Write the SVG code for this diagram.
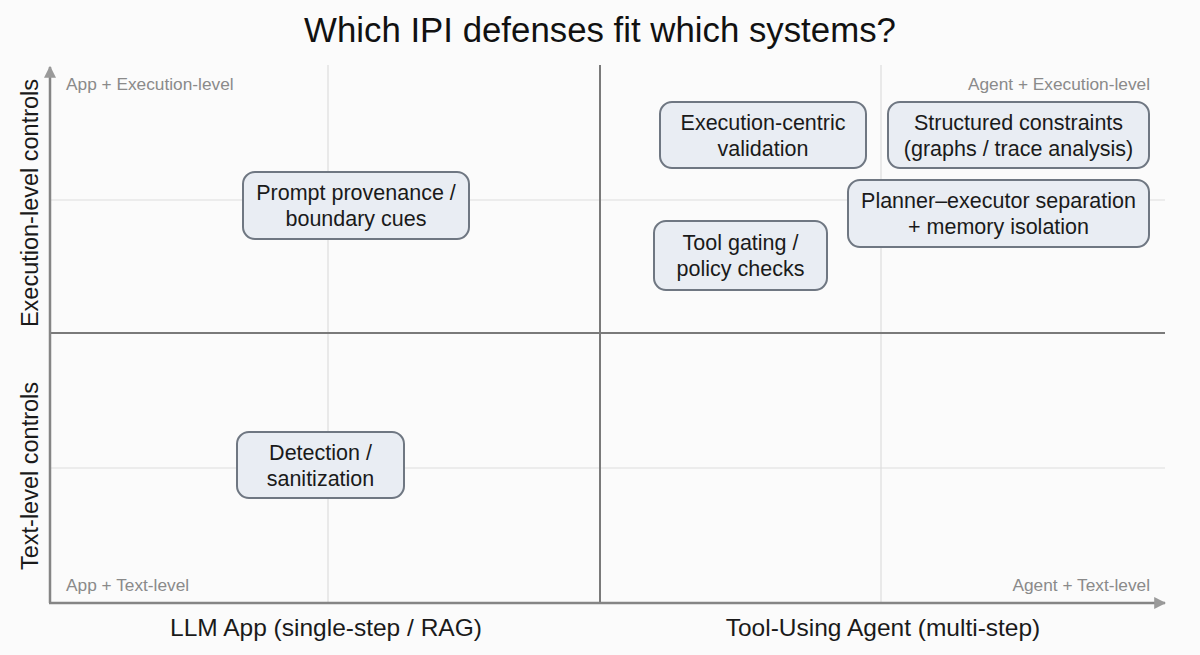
<svg xmlns="http://www.w3.org/2000/svg" width="1200" height="655" viewBox="0 0 1200 655">
<defs>
<marker id="arr" viewBox="0 0 10 10" refX="9" refY="5" markerWidth="12" markerHeight="12" markerUnits="userSpaceOnUse" orient="auto">
<path d="M0,0 L10,5 L0,10 z" fill="#9a9a9a"/>
</marker>
<style>
.grid{stroke:#dedede;stroke-width:1.2;fill:none}
.axis{stroke:#858585;stroke-width:2.5;fill:none}
.mid{stroke:#7a7a7a;stroke-width:2;fill:none}
.corner{font-family:"Liberation Sans",Arial,sans-serif;font-size:17.3px;fill:#8a8a8a}
.axlab{font-family:"Liberation Sans",Arial,sans-serif;font-size:24.5px;fill:#1a1a1a;text-anchor:middle}
.ylab{font-family:"Liberation Sans",Arial,sans-serif;font-size:23.5px;fill:#1a1a1a;text-anchor:middle}
.box rect{fill:#e9edf3;stroke:#6f7782;stroke-width:2}
.box text{font-family:"Liberation Sans",Arial,sans-serif;font-size:21.5px;fill:#1a1a1a;text-anchor:middle}
</style>
</defs>
<rect width="1200" height="655" fill="#fbfbfb"/>
<text x="600" y="42" font-family="Liberation Sans, Arial, sans-serif" font-size="34.8" fill="#111" text-anchor="middle">Which IPI defenses fit which systems?</text>
<g id="connectors">
<line class="grid" x1="328" y1="65" x2="328" y2="603"/>
<line class="grid" x1="881" y1="65" x2="881" y2="603"/>
<line class="grid" x1="50" y1="200" x2="1165" y2="200"/>
<line class="grid" x1="50" y1="468" x2="1165" y2="468"/>
<line class="mid" x1="600" y1="65" x2="600" y2="603"/>
<line class="mid" x1="50" y1="333" x2="1165" y2="333"/>
<line class="axis" x1="50" y1="603" x2="50" y2="67" marker-end="url(#arr)"/>
<line class="axis" x1="49" y1="603" x2="1165" y2="603" marker-end="url(#arr)"/>
</g>
<g id="labels">
<text class="corner" x="66" y="90">App + Execution-level</text>
<text class="corner" x="1150" y="90" text-anchor="end">Agent + Execution-level</text>
<text class="corner" x="66" y="591">App + Text-level</text>
<text class="corner" x="1150" y="591" text-anchor="end">Agent + Text-level</text>
<text class="axlab" x="326" y="636">LLM App (single-step / RAG)</text>
<text class="axlab" x="883" y="636">Tool-Using Agent (multi-step)</text>
<text class="ylab" transform="translate(38,203) rotate(-90)">Execution-level controls</text>
<text class="ylab" transform="translate(38,476) rotate(-90)">Text-level controls</text>
</g>
<g id="n-prompt" class="box">
<rect x="243" y="172" width="226" height="67" rx="12"/>
<text x="356" y="200">Prompt provenance /</text>
<text x="356" y="226">boundary cues</text>
</g>
<g id="n-detection" class="box">
<rect x="237" y="432" width="167" height="66" rx="12"/>
<text x="320.5" y="460">Detection /</text>
<text x="320.5" y="486">sanitization</text>
</g>
<g id="n-exec" class="box">
<rect x="660" y="102" width="206" height="66" rx="12"/>
<text x="763" y="130">Execution-centric</text>
<text x="763" y="156">validation</text>
</g>
<g id="n-struct" class="box">
<rect x="888" y="102" width="261" height="66" rx="12"/>
<text x="1018.5" y="130">Structured constraints</text>
<text x="1018.5" y="156">(graphs / trace analysis)</text>
</g>
<g id="n-planner" class="box">
<rect x="848" y="180" width="301" height="67" rx="12"/>
<text x="998.5" y="208">Planner–executor separation</text>
<text x="998.5" y="234">+ memory isolation</text>
</g>
<g id="n-tool" class="box">
<rect x="654" y="221" width="173" height="69" rx="12"/>
<text x="740.5" y="250">Tool gating /</text>
<text x="740.5" y="276">policy checks</text>
</g>
</svg>
